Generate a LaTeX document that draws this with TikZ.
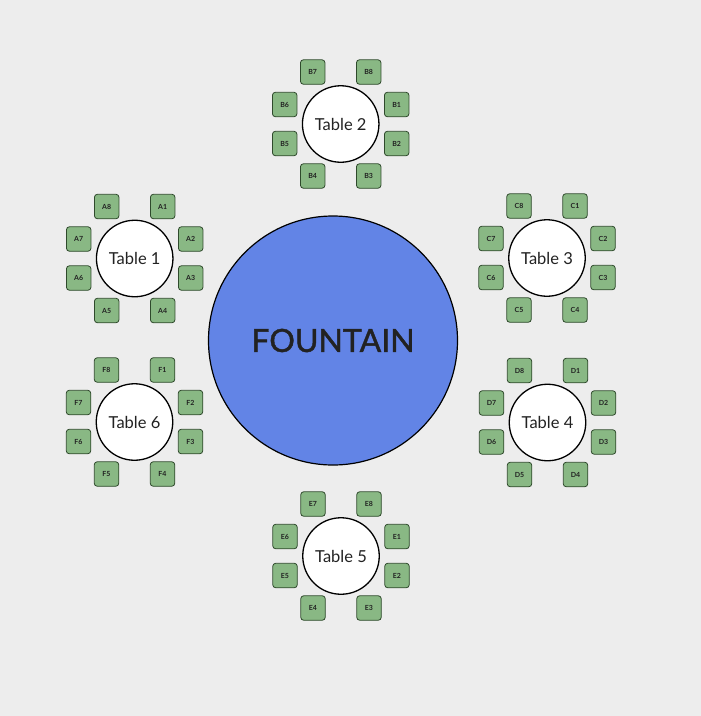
\documentclass[tikz,border=0pt]{standalone}
\usepackage{fontspec}
\setmainfont{Lato}
\newfontfamily\fountfont[FakeBold=1.3]{Lato}
\definecolor{bgc}{HTML}{EDEDED}
\definecolor{seatfill}{HTML}{89B884}
\definecolor{seatdraw}{HTML}{2F4A2C}
\definecolor{fount}{HTML}{6284E6}
\definecolor{txt}{HTML}{222222}
\tikzset{
  seat/.style={draw=seatdraw, fill=seatfill, line width=0.8pt, rounded corners=3pt,
    minimum width=24.5pt, minimum height=24.5pt, inner sep=0pt,
    font=\fontsize{7}{8}\selectfont\bfseries, text=txt},
  tbl/.style={circle, draw=black, fill=white, line width=1.3pt, minimum size=76.5pt,
    inner sep=0pt, font=\fontsize{16.5}{18}\selectfont, text=txt},
  fountain/.style={circle, draw=black, fill=fount, line width=1.2pt, minimum size=249pt,
    inner sep=0pt, font=\fountfont\fontsize{32}{36}\selectfont, text=txt}
}
% seats numbered clockwise starting at the top-right
\newcommand\tablegroupA[4]{%
  \node[tbl] (T#1) at (#3,#4) {Table #1};
  \foreach \i/\dx/\dy in {1/28/-52, 2/56/-19.5, 3/56/19.5, 4/28/52, 5/-28/52, 6/-56/19.5, 7/-56/-19.5, 8/-28/-52}
    {\node[seat] (#2\i) at (#3+\dx,#4+\dy) {#2\i};}
}
% seats numbered clockwise starting at the right-upper
\newcommand\tablegroupB[4]{%
  \node[tbl] (T#1) at (#3,#4) {Table #1};
  \foreach \i/\dx/\dy in {8/28/-52, 1/56/-19.5, 2/56/19.5, 3/28/52, 4/-28/52, 5/-56/19.5, 6/-56/-19.5, 7/-28/-52}
    {\node[seat] (#2\i) at (#3+\dx,#4+\dy) {#2\i};}
}
\begin{document}
\begin{tikzpicture}[x=1pt,y=-1pt]
\useasboundingbox (0,0) rectangle (701,716);
\fill[bgc] (0,0) rectangle (701,716);
\node[fountain] (F) at (333,340.5) {FOUNTAIN};
\tablegroupA{1}{A}{134.7}{258.5}
\tablegroupB{2}{B}{340.7}{124}
\tablegroupA{3}{C}{547}{258}
\tablegroupA{4}{D}{547.5}{422.5}
\tablegroupB{5}{E}{341}{556}
\tablegroupA{6}{F}{134.5}{422}
\end{tikzpicture}
\end{document}
